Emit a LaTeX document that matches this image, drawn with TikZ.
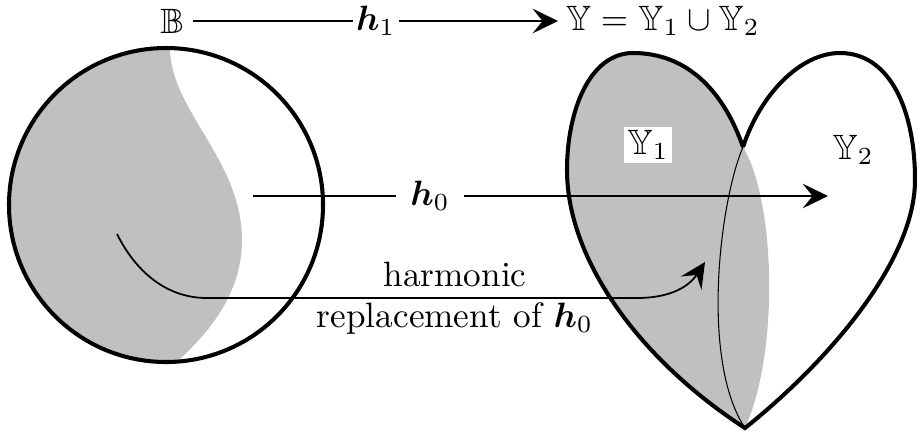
\documentclass[tikz,border=0pt]{standalone}
\usepackage{amsmath,amssymb}
\usetikzlibrary{arrows.meta}
\definecolor{regiongray}{RGB}{192,192,192}
\tikzset{
  outline/.style={line width=1.15pt},
  conn/.style={line width=0.5pt,-{Stealth[length=7.2pt,width=7pt,inset=2.8pt]}},
  thinline/.style={line width=0.3pt},
  lbl/.style={inner sep=1pt},
}
\begin{document}
\begin{tikzpicture}[x=0.284pt,y=-0.284pt]
\useasboundingbox (0,0) rectangle (917,435);
% ---- disk B ----
\begin{scope}
  \clip (166,205) circle (157);
  \fill[regiongray] (170,30) -- (170,48) .. controls (170,110) and (242,160) .. (242,240)
     .. controls (242,300) and (200,340) .. (178,361) -- (170,380) -- (0,380) -- (0,30) -- cycle;
\end{scope}
\draw[outline] (166,205) circle (157);
% ---- heart Y ----
\coordinate (N) at (743,147);
\coordinate (T) at (745,428);
\fill[regiongray] (N) .. controls (725,95) and (690,53) .. (633,53)
   .. controls (590,53) and (567,110) .. (567,170)
   .. controls (567,260) and (640,360) .. (T)
   .. controls (780,350) and (775,200) .. (N) -- cycle;
\draw[thinline] (N) .. controls (720,200) and (700,360) .. (T);
\draw[outline,line join=miter] (N) .. controls (725,95) and (690,53) .. (633,53)
   .. controls (590,53) and (567,110) .. (567,170)
   .. controls (567,260) and (640,360) .. (T)
   .. controls (830,360) and (915,260) .. (915,180)
   .. controls (915,110) and (890,53) .. (840,53)
   .. controls (800,53) and (760,95) .. (N);
\node[lbl,fill=white] (Y1) at (648,145) {$\mathbb{Y}_1$};
\node[lbl] (Y2) at (853,150) {$\mathbb{Y}_2$};
% ---- top map h1 ----
\node[inner sep=2pt] (B) at (172,21) {$\mathbb{B}$};
\node[anchor=west,inner sep=2pt] (Y) at (558,21) {$\mathbb{Y}=\mathbb{Y}_1\cup\mathbb{Y}_2$};
\draw[conn] (B.east) ++(2,0) coordinate (Bs) (Bs) -- node[fill=white,inner sep=1pt]{$\boldsymbol{h}_1$} (Y.west);
% ---- h0 ----
\coordinate (h0s) at (253,196);
\coordinate (h0e) at (828,196);
\draw[conn] (h0s) -- node[pos=0.308,fill=white,inner sep=4pt]{$\boldsymbol{h}_0$} (h0e);
% ---- harmonic replacement ----
\coordinate (hs) at (117,234);
\coordinate (he) at (705,262);
\draw[conn] (hs) .. controls (135,270) and (165,298) .. (207,298) -- (637,298)
   .. controls (668,298) and (688,288) .. (he);
\node[anchor=base] (harm) at (455,286) {harmonic};
\node[anchor=base] (repl) at (455,327) {replacement of $\boldsymbol{h}_0$};
\end{tikzpicture}
\end{document}
